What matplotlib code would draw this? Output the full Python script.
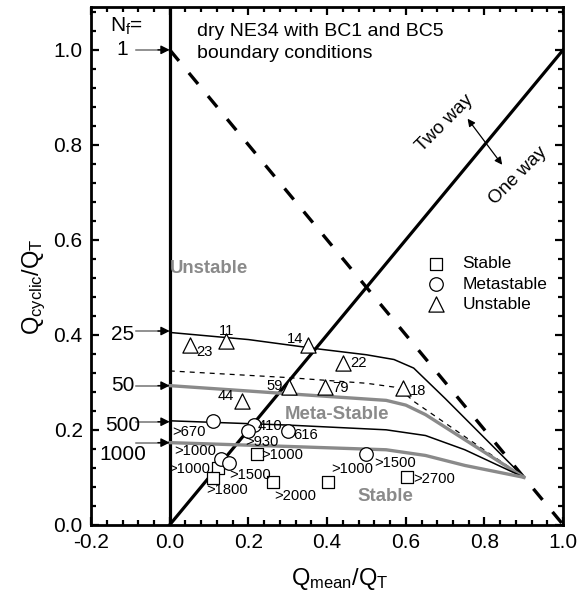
import matplotlib
matplotlib.use("Agg")
import matplotlib.pyplot as plt
from matplotlib.ticker import MultipleLocator

plt.rcParams['font.family'] = ['Liberation Sans', 'DejaVu Sans']
plt.rcParams['mathtext.fontset'] = 'custom'
plt.rcParams['mathtext.rm'] = 'Liberation Sans'
plt.rcParams['mathtext.it'] = 'Liberation Sans:italic'

# ---- data ----
stable_x = [0.122, 0.109, 0.221, 0.262, 0.402, 0.603]
stable_y = [0.120, 0.099, 0.149, 0.090, 0.090, 0.101]
meta_x = [0.109, 0.214, 0.198, 0.300, 0.130, 0.150, 0.500]
meta_y = [0.219, 0.210, 0.198, 0.198, 0.139, 0.130, 0.149]
unst_x = [0.051, 0.142, 0.351, 0.440, 0.303, 0.394, 0.593, 0.183]
unst_y = [0.379, 0.387, 0.379, 0.341, 0.290, 0.290, 0.288, 0.261]

# point labels: text, x, y
label_text = ["23", "11", "14", "22", "59", "79", "18", "44",
              ">670", "410", ">930", "616", ">1000", ">1000", ">1500", ">1800",
              ">1000", ">2000", ">1000", ">1500", ">2700"]
label_x = [0.089, 0.145, 0.318, 0.480, 0.267, 0.433, 0.631, 0.142,
           0.050, 0.254, 0.234, 0.345, 0.064, 0.050, 0.204, 0.145,
           0.287, 0.318, 0.463, 0.574, 0.671]
label_y = [0.364, 0.408, 0.392, 0.341, 0.293, 0.288, 0.282, 0.272,
           0.196, 0.207, 0.175, 0.189, 0.156, 0.118, 0.105, 0.073,
           0.147, 0.060, 0.118, 0.130, 0.097]

# Nf contour curves
c25_x = [0.0, 0.2, 0.38, 0.5, 0.57, 0.62, 0.7, 0.9]
c25_y = [0.405, 0.39, 0.37, 0.358, 0.348, 0.33, 0.266, 0.1]
c33_x = [0.0, 0.3, 0.5, 0.57, 0.6, 0.62, 0.9]
c33_y = [0.324, 0.31, 0.298, 0.29, 0.275, 0.26, 0.1]
c50_x = [0.0, 0.3, 0.55, 0.6, 0.65, 0.9]
c50_y = [0.293, 0.276, 0.262, 0.252, 0.232, 0.1]
c500_x = [0.0, 0.3, 0.55, 0.65, 0.75, 0.9]
c500_y = [0.219, 0.21, 0.2, 0.188, 0.158, 0.1]
c1000_x = [0.0, 0.3, 0.55, 0.65, 0.75, 0.9]
c1000_y = [0.173, 0.165, 0.158, 0.146, 0.125, 0.1]

nf_labels = ["1", "25", "50", "500", "1000"]
nf_label_y = [1.0, 0.400, 0.293, 0.210, 0.147]
nf_arrow_y = [1.0, 0.408, 0.293, 0.217, 0.173]

gray = '#8a8a8a'

fig = plt.figure(figsize=(5.8, 5.91), dpi=100)
ax = fig.add_axes([0.157, 0.112, 0.814, 0.876])
ax.set_xlim(-0.2, 1.0)
ax.set_ylim(0, 1.09)

# main lines
ax.plot([0, 0], [0, 1.09], color='black', lw=2.3)
ax.plot([0, 1], [0, 1], color='black', lw=2.3)
ax.plot([0, 1], [1, 0], color='black', lw=2.4, dashes=(4.3, 4.7))

# curves
ax.plot(c25_x, c25_y, color='black', lw=1.1)
ax.plot(c33_x, c33_y, color='black', lw=0.9, dashes=(4, 4))
ax.plot(c50_x, c50_y, color=gray, lw=2.4)
ax.plot(c500_x, c500_y, color='black', lw=1.1)
ax.plot(c1000_x, c1000_y, color=gray, lw=2.4)

# markers
ax.scatter(stable_x, stable_y, marker='s', s=75, facecolor='white', edgecolor='black', lw=0.9, zorder=5, label='Stable')
ax.scatter(meta_x, meta_y, marker='o', s=95, facecolor='white', edgecolor='black', lw=0.9, zorder=5, label='Metastable')
ax.scatter(unst_x, unst_y, marker='^', s=120, facecolor='white', edgecolor='black', lw=0.9, zorder=5, label='Unstable')

for t, x, y in zip(label_text, label_x, label_y):
    ax.text(x, y, t, fontsize=10.6, ha='center', va='center', zorder=6)

# Nf arrows
for t, ly, ay in zip(nf_labels, nf_label_y, nf_arrow_y):
    ax.text(-0.12, ly, t, fontsize=15, ha='center', va='center')
    ax.plot([-0.085, -0.02], [ay, ay], color='0.45', lw=1.1)
    ax.annotate('', xy=(0.0, ay), xytext=(-0.03, ay),
                arrowprops=dict(arrowstyle='-|>', color='black', lw=1.0,
                                mutation_scale=13, shrinkA=0, shrinkB=0))
ax.text(-0.11, 1.05, r'N$_{\mathrm{f}}$=', fontsize=15, ha='center', va='center')

ax.text(0.07, 1.015, 'dry NE34 with BC1 and BC5\nboundary conditions', fontsize=14,
        ha='left', va='center', linespacing=1.35)

# region labels
ax.text(0.1, 0.54, 'Unstable', color=gray, fontsize=13.4, fontweight='bold', ha='center', va='center')
ax.text(0.425, 0.232, 'Meta-Stable', color=gray, fontsize=13.4, fontweight='bold', ha='center', va='center')
ax.text(0.547, 0.06, 'Stable', color=gray, fontsize=13.4, fontweight='bold', ha='center', va='center')

# two way / one way
ax.annotate('', xy=(0.757, 0.855), xytext=(0.845, 0.758),
            arrowprops=dict(arrowstyle='<|-|>', color='black', lw=0.9, mutation_scale=11,
                            shrinkA=0, shrinkB=0))
ax.text(0.698, 0.846, 'Two way', rotation=45, fontsize=13.5, ha='center', va='center')
ax.text(0.885, 0.735, 'One way', rotation=45, fontsize=13.5, ha='center', va='center')

leg = ax.legend(loc='center left', bbox_to_anchor=(0.68, 0.465), frameon=False, fontsize=12.5,
                handletextpad=0.5, labelspacing=0.3, borderaxespad=0, scatterpoints=1)

ax.set_xlabel(r'Q$_{\mathrm{mean}}$/Q$_{\mathrm{T}}$', fontsize=17, labelpad=10)
ax.set_ylabel(r'Q$_{\mathrm{cyclic}}$/Q$_{\mathrm{T}}$', fontsize=17, labelpad=4)
ax.xaxis.label.set_x(0.527)
ax.yaxis.label.set_y(0.46)

ax.xaxis.set_minor_locator(MultipleLocator(0.04))
ax.yaxis.set_minor_locator(MultipleLocator(0.04))
ax.set_xticks([-0.2, 0.0, 0.2, 0.4, 0.6, 0.8, 1.0])
ax.set_xticklabels(['-0.2', '0.0', '0.2', '0.4', '0.6', '0.8', '1.0'])
ax.set_yticks([0.0, 0.2, 0.4, 0.6, 0.8, 1.0])
ax.set_yticklabels(['0.0', '0.2', '0.4', '0.6', '0.8', '1.0'])
ax.tick_params(which='both', direction='in', top=True, right=True, labelsize=15, width=1.6)
ax.tick_params(axis='x', pad=6)
ax.tick_params(axis='y', pad=6)
ax.tick_params(which='major', length=6)
ax.tick_params(which='minor', length=3.5)
for s in ax.spines.values():
    s.set_linewidth(2.0)

fig.savefig('out.png', dpi=100)
